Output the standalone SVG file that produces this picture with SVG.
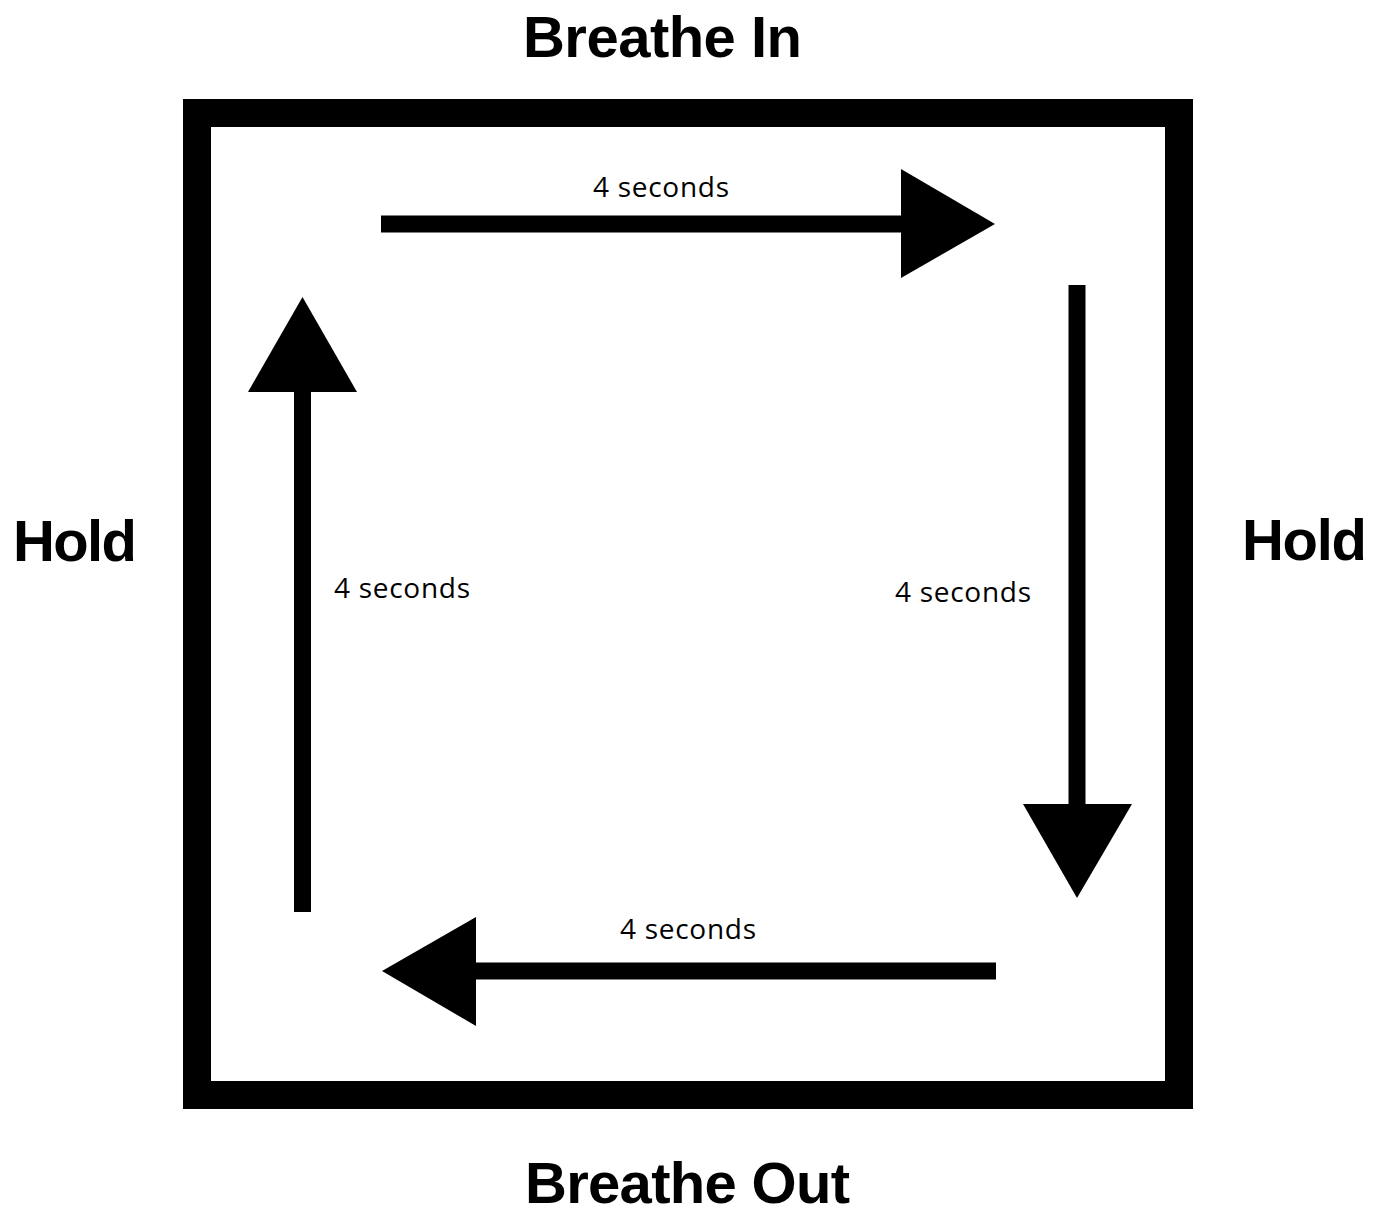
<svg xmlns="http://www.w3.org/2000/svg" width="1384" height="1206" viewBox="0 0 1384 1206">
<style>
.title{font-family:"Liberation Sans",Arial,sans-serif;font-weight:700;font-size:58px;fill:#000}
.lbl{font-family:"Open Sans","Liberation Sans",sans-serif;font-weight:400;font-size:28px;fill:#000}
.shaft{stroke:#000;stroke-width:17;fill:none}
.head{fill:#000}
</style>
<rect width="1384" height="1206" fill="#fff"/>
<g id="box">
<rect x="197" y="113" width="982" height="982" fill="none" stroke="#000" stroke-width="28"/>
</g>
<g id="labels">
<text class="title" x="523" y="57" textLength="279">Breathe In</text>
<text class="title" x="525" y="1203" textLength="325">Breathe Out</text>
<text class="title" x="13" y="561" textLength="124">Hold</text>
<text class="title" x="1242" y="560" textLength="125">Hold</text>
</g>
<g id="connectors">
<line class="shaft" x1="381" y1="224" x2="902" y2="224"/>
<polygon class="head" points="901,169 995,224 901,278"/>
<line class="shaft" x1="1077" y1="285" x2="1077" y2="806"/>
<polygon class="head" points="1023,804 1132,804 1077,898"/>
<line class="shaft" x1="996" y1="971" x2="475" y2="971"/>
<polygon class="head" points="476,917 382,971 476,1026"/>
<line class="shaft" x1="302.5" y1="912" x2="302.5" y2="391"/>
<polygon class="head" points="248,392 302.5,297 357,392"/>
</g>
<g id="durations">
<text class="lbl" x="593" y="197" textLength="136">4 seconds</text>
<text class="lbl" x="334" y="598" textLength="136">4 seconds</text>
<text class="lbl" x="895" y="602" textLength="136">4 seconds</text>
<text class="lbl" x="620" y="939" textLength="136">4 seconds</text>
</g>
</svg>
